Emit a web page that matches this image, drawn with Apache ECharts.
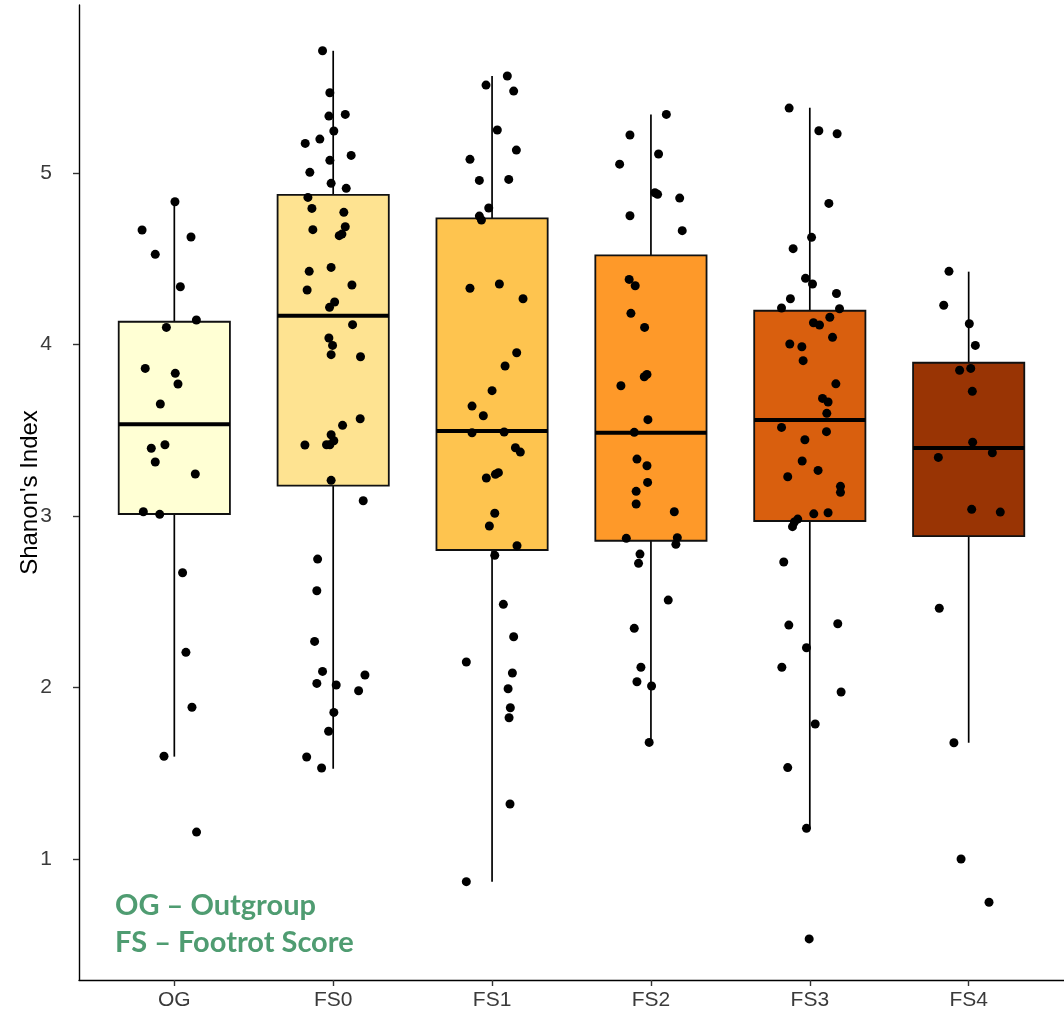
<!DOCTYPE html>
<html><head><meta charset="utf-8">
<script src="https://cdn.jsdelivr.net/npm/echarts@6/dist/echarts.min.js"></script>
<style>html,body{margin:0;padding:0;background:#fff}#chart{width:1064px;height:1017px}</style>
</head><body><div id="chart"></div>
<script>
const categories = ['OG', 'FS0', 'FS1', 'FS2', 'FS3', 'FS4'];
const boxColors = ['#FFFFD4', '#FEE391', '#FEC44F', '#FE9929', '#D95F0E', '#993404'];
const yTicks = [1, 2, 3, 4, 5];
// [lower whisker, Q1, median, Q3, upper whisker]
const boxStats = [
  [1.597, 3.012, 3.535, 4.133, 4.833],
  [1.527, 3.177, 4.168, 4.873, 5.713],
  [0.868, 2.802, 3.496, 4.736, 5.566],
  [1.680, 2.856, 3.486, 4.520, 5.342],
  [1.179, 2.971, 3.560, 4.197, 5.381],
  [1.678, 2.883, 3.397, 3.894, 4.425]
];
// [jitter offset, Shannon index]
const pointsOG = [[0.004,4.833],[-0.203,4.668],[0.105,4.627],[-0.120,4.526],[0.038,4.337],[0.139,4.143],[-0.050,4.100],[-0.183,3.861],[0.006,3.832],[0.023,3.770],[-0.088,3.653],[-0.059,3.416],[-0.145,3.395],[-0.120,3.315],[0.132,3.245],[-0.195,3.025],[-0.092,3.010],[0.052,2.669],[0.073,2.205],[0.111,1.885],[-0.065,1.599],[0.140,1.157]];
const pointsFS0 = [[-0.067,5.713],[-0.021,5.468],[-0.027,5.332],[0.076,5.342],[0.004,5.245],[-0.084,5.198],[-0.176,5.173],[0.113,5.103],[-0.021,5.074],[-0.147,5.004],[-0.013,4.940],[0.082,4.911],[-0.159,4.858],[-0.134,4.794],[0.067,4.771],[0.076,4.687],[-0.128,4.670],[0.038,4.635],[0.055,4.644],[-0.151,4.427],[-0.013,4.450],[0.118,4.347],[-0.164,4.318],[0.009,4.248],[-0.023,4.217],[0.122,4.116],[-0.027,4.038],[-0.004,3.995],[-0.013,3.941],[0.172,3.929],[0.170,3.567],[0.059,3.529],[-0.013,3.474],[0.004,3.439],[-0.042,3.416],[-0.021,3.416],[-0.178,3.414],[-0.013,3.208],[0.189,3.089],[-0.098,2.749],[-0.103,2.564],[-0.117,2.269],[-0.067,2.094],[0.200,2.073],[-0.103,2.024],[0.019,2.015],[0.160,1.981],[0.004,1.855],[-0.029,1.745],[-0.167,1.595],[-0.073,1.531]];
const pointsFS1 = [[0.096,5.566],[-0.038,5.513],[0.136,5.478],[0.033,5.251],[0.153,5.134],[-0.139,5.080],[-0.080,4.957],[0.105,4.963],[-0.021,4.796],[-0.080,4.749],[-0.067,4.726],[-0.139,4.328],[0.046,4.353],[0.195,4.267],[0.155,3.952],[0.082,3.875],[0.000,3.731],[-0.126,3.641],[-0.055,3.585],[-0.126,3.486],[0.076,3.490],[0.147,3.398],[0.178,3.373],[0.040,3.253],[0.021,3.243],[-0.036,3.222],[0.017,3.016],[-0.017,2.942],[0.157,2.827],[0.017,2.771],[0.071,2.485],[0.136,2.296],[-0.162,2.149],[0.128,2.085],[0.101,1.993],[0.115,1.882],[0.107,1.824],[0.113,1.321],[-0.162,0.868]];
const pointsFS2 = [[0.097,5.342],[-0.132,5.222],[0.048,5.111],[-0.197,5.052],[0.025,4.885],[0.042,4.876],[0.181,4.854],[-0.132,4.751],[0.197,4.664],[-0.137,4.380],[-0.099,4.343],[-0.126,4.182],[-0.040,4.100],[-0.025,3.826],[-0.042,3.812],[-0.189,3.760],[-0.019,3.562],[-0.105,3.488],[-0.088,3.332],[-0.025,3.293],[-0.021,3.196],[-0.093,3.144],[-0.093,3.070],[0.147,3.025],[-0.155,2.870],[0.166,2.874],[0.157,2.835],[-0.069,2.778],[-0.078,2.724],[0.109,2.510],[-0.105,2.345],[-0.063,2.118],[-0.088,2.034],[0.004,2.009],[-0.011,1.680]];
const pointsFS3 = [[-0.130,5.379],[0.057,5.247],[0.172,5.229],[0.120,4.823],[0.011,4.625],[-0.105,4.559],[-0.027,4.386],[0.017,4.353],[0.168,4.298],[-0.122,4.267],[-0.178,4.213],[0.187,4.209],[0.126,4.159],[0.023,4.127],[0.061,4.114],[0.143,4.042],[-0.126,4.003],[-0.050,3.987],[-0.042,3.906],[0.164,3.771],[0.080,3.686],[0.115,3.665],[0.107,3.599],[-0.178,3.517],[0.105,3.492],[-0.031,3.445],[-0.048,3.321],[0.052,3.266],[-0.139,3.229],[0.193,3.173],[0.193,3.138],[0.025,3.013],[0.115,3.019],[-0.076,2.982],[-0.097,2.965],[-0.109,2.938],[-0.164,2.732],[-0.132,2.364],[0.176,2.372],[-0.021,2.232],[-0.176,2.118],[0.197,1.974],[0.034,1.787],[-0.139,1.533],[-0.021,1.179],[-0.004,0.534]];
const pointsFS4 = [[-0.124,4.427],[-0.157,4.229],[0.004,4.121],[0.042,3.995],[-0.057,3.850],[0.013,3.861],[0.023,3.727],[0.025,3.431],[0.149,3.369],[-0.191,3.342],[0.019,3.039],[0.199,3.023],[-0.185,2.462],[-0.093,1.678],[-0.048,1.000],[0.128,0.748]];
const pointGroups = [pointsOG, pointsFS0, pointsFS1, pointsFS2, pointsFS3, pointsFS4];
const legendLines = ['OG – Outgroup', 'FS – Footrot Score'];

const chart = echarts.init(document.getElementById('chart'), null, {renderer: 'canvas'});
const catIdx = categories.map((c, i) => i);
const boxData = boxStats.map((s, i) => [i].concat(s));
const scatterData = [];
pointGroups.forEach((pts, i) => pts.forEach(p => scatterData.push([i + p[0], p[1]])));

const option = {
  backgroundColor: '#fff',
  animation: false,
  grid: {left: 79, top: 5, width: 987, height: 975, containLabel: false},
  xAxis: {
    type: 'value', min: -0.6, max: 5.6,
    axisLine: {show: true, onZero: false, lineStyle: {color: '#000', width: 1.4}},
    axisTick: {show: true, customValues: catIdx, length: 6, lineStyle: {color: '#333', width: 1.4}},
    axisLabel: {customValues: catIdx, formatter: v => categories[Math.round(v)], color: '#3a3a3a',
      fontSize: 21, fontFamily: 'Liberation Sans, Arial, sans-serif', margin: 10},
    splitLine: {show: false}
  },
  yAxis: {
    type: 'value', min: 0.2945, max: 5.98,
    name: "Shanon's Index", nameLocation: 'middle', nameGap: 37, nameMoveOverlap: false,
    nameTextStyle: {color: '#000', fontSize: 24, fontFamily: 'Liberation Sans, Arial, sans-serif'},
    axisLine: {show: true, onZero: false, lineStyle: {color: '#000', width: 1.4}},
    axisTick: {show: true, customValues: yTicks, length: 6, lineStyle: {color: '#333', width: 1.4}},
    axisLabel: {customValues: yTicks, color: '#3a3a3a', fontSize: 21,
      fontFamily: 'Liberation Sans, Arial, sans-serif', margin: 27},
    splitLine: {show: false}
  },
  graphic: legendLines.map((t, k) => ({
    type: 'text', x: 115, y: 906 + k * 37, z: 100,
    style: {text: t, font: 'bold 29px Lato, "Open Sans", sans-serif', fill: '#4F9C71', verticalAlign: 'middle', align: 'left'}
  })),
  series: [
    {
      type: 'custom',
      data: boxData,
      encode: {x: 0, y: [1, 2, 3, 4, 5]},
      z: 2,
      renderItem: function (params, api) {
        const i = api.value(0);
        const lo = api.value(1), q1 = api.value(2), md = api.value(3), q3 = api.value(4), hi = api.value(5);
        const hw = 0.35;
        const tl = api.coord([i - hw, q3]);
        const br = api.coord([i + hw, q1]);
        const ml = api.coord([i - hw, md]);
        const mr = api.coord([i + hw, md]);
        const ph = api.coord([i, hi]);
        const p3 = api.coord([i, q3]);
        const pl = api.coord([i, lo]);
        const p1 = api.coord([i, q1]);
        return {
          type: 'group',
          children: [
            {type: 'line', shape: {x1: ph[0], y1: ph[1], x2: p3[0], y2: p3[1]}, style: {stroke: '#000', lineWidth: 1.7}},
            {type: 'line', shape: {x1: pl[0], y1: pl[1], x2: p1[0], y2: p1[1]}, style: {stroke: '#000', lineWidth: 1.7}},
            {type: 'rect', shape: {x: tl[0], y: tl[1], width: br[0] - tl[0], height: br[1] - tl[1]},
              style: {fill: boxColors[i], stroke: '#111', lineWidth: 1.8}},
            {type: 'line', shape: {x1: ml[0], y1: ml[1], x2: mr[0], y2: mr[1]}, style: {stroke: '#000', lineWidth: 4}}
          ]
        };
      }
    },
    {
      type: 'scatter',
      data: scatterData,
      symbol: 'circle',
      symbolSize: 9,
      z: 5,
      itemStyle: {color: '#000', opacity: 1},
      emphasis: {disabled: true}
    }
  ]
};
chart.setOption(option);
</script>
</body></html>
